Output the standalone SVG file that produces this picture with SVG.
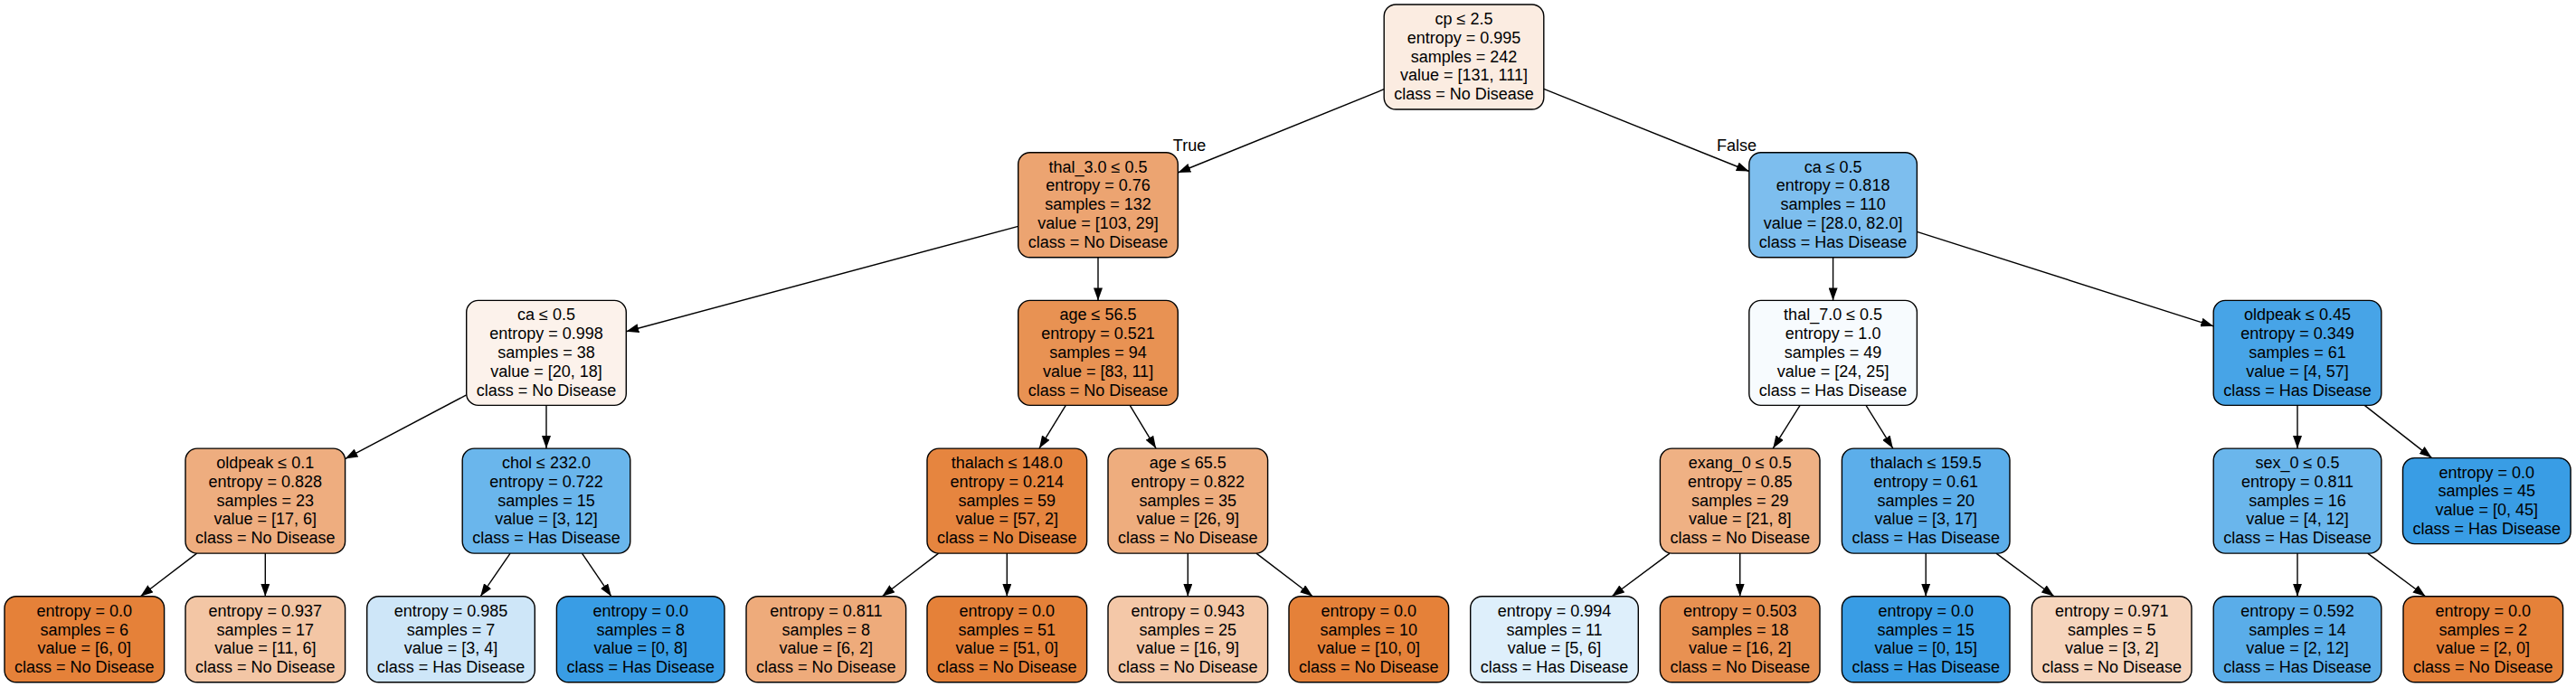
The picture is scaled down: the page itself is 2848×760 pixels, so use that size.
<svg xmlns="http://www.w3.org/2000/svg" width="2848" height="760" viewBox="0 0 2848 760">
<style>
.node rect{stroke:#000;stroke-width:1.4}
text{font-family:"Liberation Sans",Arial,Helvetica,sans-serif;font-size:18px;text-anchor:middle;fill:#000}
.edges line{stroke:#000;stroke-width:1.4;marker-end:url(#arr)}
</style>
<defs>
<marker id="arr" markerUnits="userSpaceOnUse" markerWidth="14" markerHeight="10" refX="14" refY="5" orient="auto" viewBox="0 0 14 10"><path d="M0,0 L14,5 L0,10 Z" fill="#000"/></marker>
</defs>
<rect width="2848" height="760" fill="#fff"/>
<g id="edges" class="edges">
<line x1="1530.2" y1="98.7" x2="1302.3" y2="191.0"/>
<line x1="1706.8" y1="98.4" x2="1933.8" y2="189.5"/>
<line x1="1125.7" y1="250.4" x2="692.3" y2="366.7"/>
<line x1="1214" y1="284.7" x2="1214" y2="332.4"/>
<line x1="2026.6" y1="284.7" x2="2026.6" y2="332.4"/>
<line x1="2119.4" y1="256.3" x2="2447.2" y2="360.8"/>
<line x1="515.7" y1="436.9" x2="381.6" y2="507.6"/>
<line x1="604" y1="448.4" x2="604" y2="496.1"/>
<line x1="1178.3" y1="448.4" x2="1149.0" y2="496.1"/>
<line x1="1249.2" y1="448.4" x2="1278.1" y2="496.1"/>
<line x1="1990.1" y1="448.4" x2="1960.2" y2="496.1"/>
<line x1="2063.0" y1="448.4" x2="2092.8" y2="496.1"/>
<line x1="2540" y1="448.4" x2="2540" y2="496.1"/>
<line x1="2614.2" y1="448.4" x2="2688.6" y2="506.6"/>
<line x1="217.6" y1="612.1" x2="155.3" y2="659.8"/>
<line x1="293.3" y1="612.1" x2="293.3" y2="659.8"/>
<line x1="564.1" y1="612.1" x2="531.2" y2="659.8"/>
<line x1="643.5" y1="612.1" x2="675.9" y2="659.8"/>
<line x1="1037.6" y1="612.1" x2="975.3" y2="659.8"/>
<line x1="1113.3" y1="612.1" x2="1113.3" y2="659.8"/>
<line x1="1313.3" y1="612.1" x2="1313.3" y2="659.8"/>
<line x1="1389.0" y1="612.1" x2="1451.3" y2="659.8"/>
<line x1="1846.0" y1="612.1" x2="1782.1" y2="659.8"/>
<line x1="1923.7" y1="612.1" x2="1923.7" y2="659.8"/>
<line x1="2129.2" y1="612.1" x2="2129.2" y2="659.8"/>
<line x1="2207.0" y1="612.1" x2="2271.0" y2="659.8"/>
<line x1="2540" y1="612.1" x2="2540" y2="659.8"/>
<line x1="2617.7" y1="612.1" x2="2681.6" y2="659.8"/>
<text x="1315" y="166.7">True</text>
<text x="1920" y="166.7">False</text>
</g>
<g id="n0" class="node" transform="translate(1618.5,5)"><rect x="-88.3" width="176.6" height="116" rx="13" fill="#fbece1"/><text y="22"><tspan x="0">cp ≤ 2.5</tspan><tspan x="0" dy="20.8">entropy = 0.995</tspan><tspan x="0" dy="20.8">samples = 242</tspan><tspan x="0" dy="20.8">value = [131, 111]</tspan><tspan x="0" dy="20.8">class = No Disease</tspan></text></g>
<g id="n1" class="node" transform="translate(1214,168.7)"><rect x="-88.3" width="176.6" height="116" rx="13" fill="#eca471"/><text y="22"><tspan x="0">thal_3.0 ≤ 0.5</tspan><tspan x="0" dy="20.8">entropy = 0.76</tspan><tspan x="0" dy="20.8">samples = 132</tspan><tspan x="0" dy="20.8">value = [103, 29]</tspan><tspan x="0" dy="20.8">class = No Disease</tspan></text></g>
<g id="n2" class="node" transform="translate(2026.6,168.7)"><rect x="-92.8" width="185.6" height="116" rx="13" fill="#7dbeee"/><text y="22"><tspan x="0">ca ≤ 0.5</tspan><tspan x="0" dy="20.8">entropy = 0.818</tspan><tspan x="0" dy="20.8">samples = 110</tspan><tspan x="0" dy="20.8">value = [28.0, 82.0]</tspan><tspan x="0" dy="20.8">class = Has Disease</tspan></text></g>
<g id="n3" class="node" transform="translate(604,332.4)"><rect x="-88.3" width="176.6" height="116" rx="13" fill="#fcf2eb"/><text y="22"><tspan x="0">ca ≤ 0.5</tspan><tspan x="0" dy="20.8">entropy = 0.998</tspan><tspan x="0" dy="20.8">samples = 38</tspan><tspan x="0" dy="20.8">value = [20, 18]</tspan><tspan x="0" dy="20.8">class = No Disease</tspan></text></g>
<g id="n4" class="node" transform="translate(1214,332.4)"><rect x="-88.3" width="176.6" height="116" rx="13" fill="#e89253"/><text y="22"><tspan x="0">age ≤ 56.5</tspan><tspan x="0" dy="20.8">entropy = 0.521</tspan><tspan x="0" dy="20.8">samples = 94</tspan><tspan x="0" dy="20.8">value = [83, 11]</tspan><tspan x="0" dy="20.8">class = No Disease</tspan></text></g>
<g id="n5" class="node" transform="translate(2026.6,332.4)"><rect x="-92.8" width="185.6" height="116" rx="13" fill="#f7fbfe"/><text y="22"><tspan x="0">thal_7.0 ≤ 0.5</tspan><tspan x="0" dy="20.8">entropy = 1.0</tspan><tspan x="0" dy="20.8">samples = 49</tspan><tspan x="0" dy="20.8">value = [24, 25]</tspan><tspan x="0" dy="20.8">class = Has Disease</tspan></text></g>
<g id="n6" class="node" transform="translate(2540,332.4)"><rect x="-92.8" width="185.6" height="116" rx="13" fill="#47a4e7"/><text y="22"><tspan x="0">oldpeak ≤ 0.45</tspan><tspan x="0" dy="20.8">entropy = 0.349</tspan><tspan x="0" dy="20.8">samples = 61</tspan><tspan x="0" dy="20.8">value = [4, 57]</tspan><tspan x="0" dy="20.8">class = Has Disease</tspan></text></g>
<g id="n7" class="node" transform="translate(293.3,496.1)"><rect x="-88.3" width="176.6" height="116" rx="13" fill="#eead7f"/><text y="22"><tspan x="0">oldpeak ≤ 0.1</tspan><tspan x="0" dy="20.8">entropy = 0.828</tspan><tspan x="0" dy="20.8">samples = 23</tspan><tspan x="0" dy="20.8">value = [17, 6]</tspan><tspan x="0" dy="20.8">class = No Disease</tspan></text></g>
<g id="n8" class="node" transform="translate(604,496.1)"><rect x="-92.8" width="185.6" height="116" rx="13" fill="#6ab6ec"/><text y="22"><tspan x="0">chol ≤ 232.0</tspan><tspan x="0" dy="20.8">entropy = 0.722</tspan><tspan x="0" dy="20.8">samples = 15</tspan><tspan x="0" dy="20.8">value = [3, 12]</tspan><tspan x="0" dy="20.8">class = Has Disease</tspan></text></g>
<g id="n9" class="node" transform="translate(1113.3,496.1)"><rect x="-88.3" width="176.6" height="116" rx="13" fill="#e6853f"/><text y="22"><tspan x="0">thalach ≤ 148.0</tspan><tspan x="0" dy="20.8">entropy = 0.214</tspan><tspan x="0" dy="20.8">samples = 59</tspan><tspan x="0" dy="20.8">value = [57, 2]</tspan><tspan x="0" dy="20.8">class = No Disease</tspan></text></g>
<g id="n10" class="node" transform="translate(1313.3,496.1)"><rect x="-88.3" width="176.6" height="116" rx="13" fill="#eead7e"/><text y="22"><tspan x="0">age ≤ 65.5</tspan><tspan x="0" dy="20.8">entropy = 0.822</tspan><tspan x="0" dy="20.8">samples = 35</tspan><tspan x="0" dy="20.8">value = [26, 9]</tspan><tspan x="0" dy="20.8">class = No Disease</tspan></text></g>
<g id="n11" class="node" transform="translate(1923.7,496.1)"><rect x="-88.3" width="176.6" height="116" rx="13" fill="#efb184"/><text y="22"><tspan x="0">exang_0 ≤ 0.5</tspan><tspan x="0" dy="20.8">entropy = 0.85</tspan><tspan x="0" dy="20.8">samples = 29</tspan><tspan x="0" dy="20.8">value = [21, 8]</tspan><tspan x="0" dy="20.8">class = No Disease</tspan></text></g>
<g id="n12" class="node" transform="translate(2129.2,496.1)"><rect x="-92.8" width="185.6" height="116" rx="13" fill="#5caeea"/><text y="22"><tspan x="0">thalach ≤ 159.5</tspan><tspan x="0" dy="20.8">entropy = 0.61</tspan><tspan x="0" dy="20.8">samples = 20</tspan><tspan x="0" dy="20.8">value = [3, 17]</tspan><tspan x="0" dy="20.8">class = Has Disease</tspan></text></g>
<g id="n13" class="node" transform="translate(2540,496.1)"><rect x="-92.8" width="185.6" height="116" rx="13" fill="#6ab6ec"/><text y="22"><tspan x="0">sex_0 ≤ 0.5</tspan><tspan x="0" dy="20.8">entropy = 0.811</tspan><tspan x="0" dy="20.8">samples = 16</tspan><tspan x="0" dy="20.8">value = [4, 12]</tspan><tspan x="0" dy="20.8">class = Has Disease</tspan></text></g>
<g id="n14" class="node" transform="translate(2749.3,506.6)"><rect x="-92.8" width="185.6" height="95" rx="13" fill="#399de5"/><text y="22"><tspan x="0">entropy = 0.0</tspan><tspan x="0" dy="20.8">samples = 45</tspan><tspan x="0" dy="20.8">value = [0, 45]</tspan><tspan x="0" dy="20.8">class = Has Disease</tspan></text></g>
<g id="n15" class="node" transform="translate(93.3,659.8)"><rect x="-88.3" width="176.6" height="95" rx="13" fill="#e58139"/><text y="22"><tspan x="0">entropy = 0.0</tspan><tspan x="0" dy="20.8">samples = 6</tspan><tspan x="0" dy="20.8">value = [6, 0]</tspan><tspan x="0" dy="20.8">class = No Disease</tspan></text></g>
<g id="n16" class="node" transform="translate(293.3,659.8)"><rect x="-88.3" width="176.6" height="95" rx="13" fill="#f3c6a5"/><text y="22"><tspan x="0">entropy = 0.937</tspan><tspan x="0" dy="20.8">samples = 17</tspan><tspan x="0" dy="20.8">value = [11, 6]</tspan><tspan x="0" dy="20.8">class = No Disease</tspan></text></g>
<g id="n17" class="node" transform="translate(498.5,659.8)"><rect x="-92.8" width="185.6" height="95" rx="13" fill="#cee6f8"/><text y="22"><tspan x="0">entropy = 0.985</tspan><tspan x="0" dy="20.8">samples = 7</tspan><tspan x="0" dy="20.8">value = [3, 4]</tspan><tspan x="0" dy="20.8">class = Has Disease</tspan></text></g>
<g id="n18" class="node" transform="translate(708.2,659.8)"><rect x="-92.8" width="185.6" height="95" rx="13" fill="#399de5"/><text y="22"><tspan x="0">entropy = 0.0</tspan><tspan x="0" dy="20.8">samples = 8</tspan><tspan x="0" dy="20.8">value = [0, 8]</tspan><tspan x="0" dy="20.8">class = Has Disease</tspan></text></g>
<g id="n19" class="node" transform="translate(913.3,659.8)"><rect x="-88.3" width="176.6" height="95" rx="13" fill="#eeab7b"/><text y="22"><tspan x="0">entropy = 0.811</tspan><tspan x="0" dy="20.8">samples = 8</tspan><tspan x="0" dy="20.8">value = [6, 2]</tspan><tspan x="0" dy="20.8">class = No Disease</tspan></text></g>
<g id="n20" class="node" transform="translate(1113.3,659.8)"><rect x="-88.3" width="176.6" height="95" rx="13" fill="#e58139"/><text y="22"><tspan x="0">entropy = 0.0</tspan><tspan x="0" dy="20.8">samples = 51</tspan><tspan x="0" dy="20.8">value = [51, 0]</tspan><tspan x="0" dy="20.8">class = No Disease</tspan></text></g>
<g id="n21" class="node" transform="translate(1313.3,659.8)"><rect x="-88.3" width="176.6" height="95" rx="13" fill="#f4c8a8"/><text y="22"><tspan x="0">entropy = 0.943</tspan><tspan x="0" dy="20.8">samples = 25</tspan><tspan x="0" dy="20.8">value = [16, 9]</tspan><tspan x="0" dy="20.8">class = No Disease</tspan></text></g>
<g id="n22" class="node" transform="translate(1513.3,659.8)"><rect x="-88.3" width="176.6" height="95" rx="13" fill="#e58139"/><text y="22"><tspan x="0">entropy = 0.0</tspan><tspan x="0" dy="20.8">samples = 10</tspan><tspan x="0" dy="20.8">value = [10, 0]</tspan><tspan x="0" dy="20.8">class = No Disease</tspan></text></g>
<g id="n23" class="node" transform="translate(1718.5,659.8)"><rect x="-92.8" width="185.6" height="95" rx="13" fill="#deeffb"/><text y="22"><tspan x="0">entropy = 0.994</tspan><tspan x="0" dy="20.8">samples = 11</tspan><tspan x="0" dy="20.8">value = [5, 6]</tspan><tspan x="0" dy="20.8">class = Has Disease</tspan></text></g>
<g id="n24" class="node" transform="translate(1923.7,659.8)"><rect x="-88.3" width="176.6" height="95" rx="13" fill="#e89152"/><text y="22"><tspan x="0">entropy = 0.503</tspan><tspan x="0" dy="20.8">samples = 18</tspan><tspan x="0" dy="20.8">value = [16, 2]</tspan><tspan x="0" dy="20.8">class = No Disease</tspan></text></g>
<g id="n25" class="node" transform="translate(2129.2,659.8)"><rect x="-92.8" width="185.6" height="95" rx="13" fill="#399de5"/><text y="22"><tspan x="0">entropy = 0.0</tspan><tspan x="0" dy="20.8">samples = 15</tspan><tspan x="0" dy="20.8">value = [0, 15]</tspan><tspan x="0" dy="20.8">class = Has Disease</tspan></text></g>
<g id="n26" class="node" transform="translate(2334.7,659.8)"><rect x="-88.3" width="176.6" height="95" rx="13" fill="#f6d5bd"/><text y="22"><tspan x="0">entropy = 0.971</tspan><tspan x="0" dy="20.8">samples = 5</tspan><tspan x="0" dy="20.8">value = [3, 2]</tspan><tspan x="0" dy="20.8">class = No Disease</tspan></text></g>
<g id="n27" class="node" transform="translate(2540,659.8)"><rect x="-92.8" width="185.6" height="95" rx="13" fill="#5aade9"/><text y="22"><tspan x="0">entropy = 0.592</tspan><tspan x="0" dy="20.8">samples = 14</tspan><tspan x="0" dy="20.8">value = [2, 12]</tspan><tspan x="0" dy="20.8">class = Has Disease</tspan></text></g>
<g id="n28" class="node" transform="translate(2745.3,659.8)"><rect x="-88.3" width="176.6" height="95" rx="13" fill="#e58139"/><text y="22"><tspan x="0">entropy = 0.0</tspan><tspan x="0" dy="20.8">samples = 2</tspan><tspan x="0" dy="20.8">value = [2, 0]</tspan><tspan x="0" dy="20.8">class = No Disease</tspan></text></g>
</svg>
